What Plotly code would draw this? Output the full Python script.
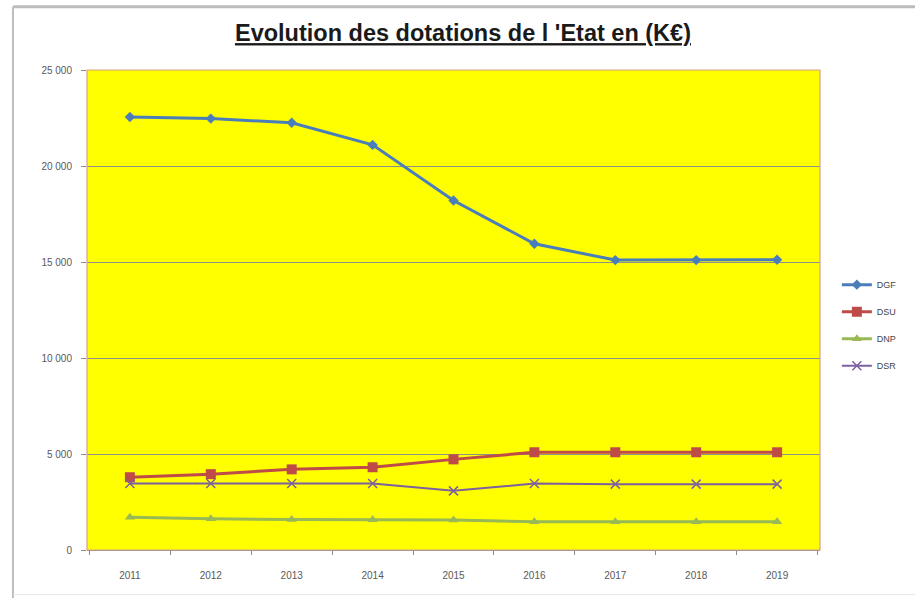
import plotly.graph_objects as go

# years and dotations (K€)
years = ['2011', '2012', '2013', '2014', '2015', '2016', '2017', '2018', '2019']
dgf = [22550, 22470, 22250, 21100, 18200, 15950, 15100, 15100, 15120]
dsu = [3790, 3950, 4200, 4310, 4720, 5090, 5090, 5090, 5090]
dnp = [1710, 1625, 1590, 1580, 1560, 1470, 1470, 1470, 1470]
dsr = [3460, 3460, 3460, 3460, 3080, 3460, 3430, 3430, 3430]

series = [
    ('DGF', dgf, '#4a7ebb', dict(symbol='diamond', size=8)),
    ('DSU', dsu, '#be4b48', dict(symbol='square', size=10)),
    ('DNP', dnp, '#98b954', dict(symbol='triangle-up', size=9)),
    ('DSR', dsr, '#7d60a0', dict(symbol='x-thin', size=9, line=dict(width=1.5, color='#7d60a0'))),
]

data = []
for name, vals, col, mk in series:
    data.append(go.Scatter(x=years, y=vals, name=name, mode='lines+markers',
                           legendgroup=name,
                           line=dict(color=col, width=3 if name != 'DSR' else 2),
                           marker=dict(color=col, **mk)))

fig = go.Figure(data=data)

fig.update_layout(
    width=915, height=598,
    margin=dict(l=87, r=95, t=70, b=48),
    paper_bgcolor='white',
    plot_bgcolor='#ffff00',
    separators=', ',
    font=dict(family='Liberation Sans, Arial, sans-serif', color='#595959'),
    title=dict(text='<u>Evolution des dotations de l \'Etat en (K€)</u>',
               x=0.506, xanchor='center', y=0.945, yanchor='middle',
               font=dict(size=23.5, color='#1a1a1a', family='Liberation Sans, Arial, sans-serif',
                         weight='bold')),
    xaxis=dict(type='category', tickson='boundaries', ticks='outside', ticklen=4,
               tickcolor='#8c8c8c', showline=True, linecolor='#8c8c8c', linewidth=1,
               showgrid=False, tickfont=dict(size=10), ticklabelstandoff=16),
    yaxis=dict(range=[0, 25000], dtick=5000, tickformat=',d', ticks='outside', ticklen=5,
               tickcolor='#8c8c8c', showgrid=True, gridcolor='#8f8f8f', gridwidth=1.2,
               zeroline=False, tickfont=dict(size=10), ticklabelstandoff=7),
    legend=dict(x=1.023, y=0.583, xanchor='left', yanchor='top',
                font=dict(size=9, color='#444444'), traceorder='grouped',
                tracegroupgap=8, itemwidth=30, bgcolor='rgba(0,0,0,0)'),
    shapes=[
        # plot area border
        dict(type='rect', xref='paper', yref='paper', x0=0, x1=1, y0=0, y1=1,
             line=dict(color='#d9a08a', width=1.2)),
        # outer chart frame
        dict(type='line', xref='paper', yref='paper', x0=-0.101, x1=1.13, y0=1.132, y1=1.132,
             line=dict(color='#bdbdbd', width=3)),
        dict(type='line', xref='paper', yref='paper', x0=-0.101, x1=-0.101, y0=1.132, y1=-0.1,
             line=dict(color='#bdbdbd', width=2)),
        dict(type='line', xref='paper', yref='paper', x0=-0.101, x1=1.13, y0=-0.093, y1=-0.093,
             line=dict(color='#e6e6e6', width=1)),
    ],
)

# drop the default 8px body margin so the figure sits at the page corner
fig.write_html("out.html", config={'displayModeBar': False},
               post_script="document.body.style.margin='0';")
